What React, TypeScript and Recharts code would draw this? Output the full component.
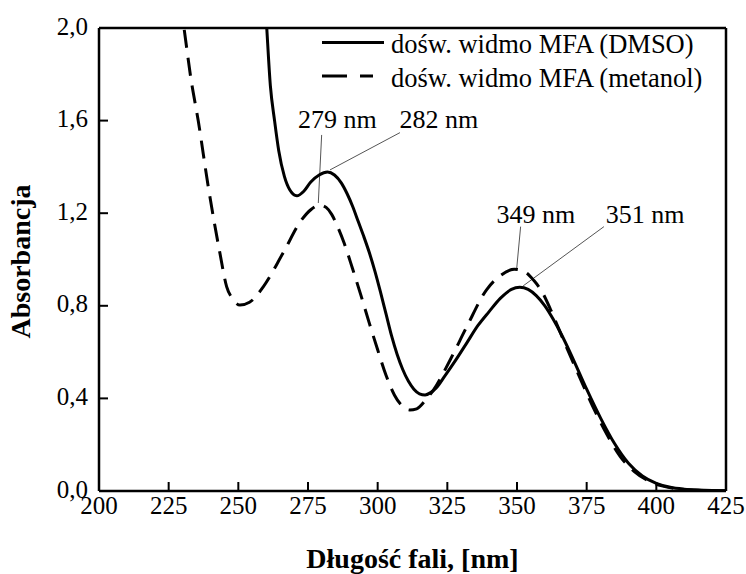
import React from 'react';
import { LineChart, Line, XAxis, YAxis, ReferenceLine, ReferenceDot } from 'recharts';

const SERIF = 'Liberation Serif, Times New Roman, serif';

// widmo MFA w DMSO (linia ciągła)
const dmsoNm = [257, 260, 261.5, 263, 264.5, 266.5, 268.5, 271, 273.5, 276, 279, 282, 284.5, 287, 289, 291, 293, 295, 297, 299, 301, 303, 305, 307, 309, 311, 313, 315, 317, 319, 321, 324, 328, 332, 336, 340, 344, 348, 351, 354, 357, 360, 363, 366, 369, 372, 375, 380, 385, 390, 395, 400, 405, 410, 415, 420, 425];
const dmsoAbs = [2.6, 2.04, 1.75, 1.6, 1.47, 1.36, 1.3, 1.275, 1.295, 1.335, 1.365, 1.378, 1.365, 1.33, 1.285, 1.23, 1.165, 1.1, 1.03, 0.95, 0.86, 0.765, 0.67, 0.59, 0.525, 0.475, 0.44, 0.42, 0.415, 0.425, 0.445, 0.495, 0.565, 0.64, 0.715, 0.775, 0.832, 0.871, 0.88, 0.871, 0.843, 0.8, 0.742, 0.675, 0.6, 0.52, 0.44, 0.315, 0.205, 0.12, 0.065, 0.033, 0.016, 0.008, 0.004, 0.002, 0.001];

// widmo MFA w metanolu (linia przerywana)
const metNm = [226, 230.5, 233, 235.6, 239.2, 243.4, 245.8, 248, 250.6, 254, 259, 266, 272.7, 276, 279.3, 281.5, 283.5, 285.5, 288, 291, 294, 297, 300, 303, 306, 309, 311.5, 314, 317, 320, 326, 332, 339, 344, 349, 353, 356, 359, 362, 365, 368, 372, 377, 382, 387, 392, 397, 402, 407, 412, 418, 425];
const metAbs = [2.35, 2.0, 1.78, 1.6, 1.315, 1.027, 0.883, 0.83, 0.803, 0.815, 0.883, 1.027, 1.171, 1.215, 1.235, 1.225, 1.195, 1.145, 1.07, 0.96, 0.845, 0.725, 0.61, 0.5, 0.415, 0.365, 0.35, 0.355, 0.39, 0.436, 0.566, 0.71, 0.868, 0.93, 0.958, 0.945, 0.91, 0.86, 0.785, 0.7, 0.615, 0.505, 0.37, 0.25, 0.15, 0.085, 0.045, 0.022, 0.01, 0.005, 0.002, 0.001];

const xTicks = [200, 225, 250, 275, 300, 325, 350, 375, 400, 425];
const yTicks = [0, 0.4, 0.8, 1.2, 1.6, 2.0];

const seriesNames = ['dośw. widmo MFA (DMSO)', 'dośw. widmo MFA (metanol)'];

// opisy maksimów: tekst, położenie tekstu i linia odnośnika
const annoText = ['279 nm', '282 nm', '349 nm', '351 nm'];
const annoPos = [[285.5, 1.568], [322, 1.568], [356.8, 1.159], [396, 1.159]];
const leaderFrom = [[279.9, 1.538], [308, 1.548], [351.3, 1.142], [381.2, 1.142]];
const leaderTo = [[278.7, 1.244], [282.9, 1.387], [349.9, 0.962], [352.2, 0.886]];

const dmsoData = dmsoNm.map((nm, i) => ({ nm, a: dmsoAbs[i] }));
const metData = metNm.map((nm, i) => ({ nm, a: metAbs[i] }));

const XTick = (props: any) => {
  const { x, y, payload } = props;
  return (
    <g>
      <line x1={x} y1={y} x2={x} y2={y - 9} stroke="#000" strokeWidth={2} />
      <text x={x} y={y + 23} textAnchor="middle" fontSize={25} fontFamily={SERIF} fill="#000">{payload.value}</text>
    </g>
  );
};

const YTick = (props: any) => {
  const { x, y, payload } = props;
  return (
    <g>
      <line x1={x} y1={y} x2={x + 9} y2={y} stroke="#000" strokeWidth={2} />
      <text x={x - 11} y={y + 6.5} textAnchor="end" fontSize={25} fontFamily={SERIF} fill="#000">
        {payload.value.toFixed(1).replace('.', ',')}
      </text>
    </g>
  );
};

const xTitle = (props: any) => {
  const vb = props.viewBox;
  return (
    <text x={vb.x + vb.width / 2} y={vb.y + 77} textAnchor="middle" fontSize={28} fontWeight="bold" fontFamily={SERIF} fill="#000">
      Długość fali, [nm]
    </text>
  );
};

const yTitle = (props: any) => {
  const vb = props.viewBox;
  const cx = 30;
  const cy = vb.y + vb.height / 2 + 2;
  return (
    <text x={cx} y={cy} transform={`rotate(-90, ${cx}, ${cy})`} textAnchor="middle" fontSize={28} fontWeight="bold" fontFamily={SERIF} fill="#000">
      Absorbancja
    </text>
  );
};

const annoLabel = (text: string) => (props: any) => {
  const vb = props.viewBox;
  return (
    <text x={vb.x + vb.width / 2} y={vb.y + vb.height / 2} textAnchor="middle" fontSize={26} fontFamily={SERIF} fill="#000">
      {text}
    </text>
  );
};

// legenda w prawym górnym rogu obszaru wykresu
const ChartLegend = () => (
  <svg width={400} height={72} style={{ position: 'absolute', left: 320, top: 26, display: 'block' }}>
    <line x1={2} y1={16.5} x2={64} y2={16.5} stroke="#000" strokeWidth={3} />
    <text x={71} y={27} fontSize={26.5} fontFamily={SERIF} fill="#000">{seriesNames[0]}</text>
    <line x1={2} y1={50} x2={53} y2={50} stroke="#000" strokeWidth={3} strokeDasharray="25 13" />
    <text x={71} y={61} fontSize={26.5} fontFamily={SERIF} fill="#000">{seriesNames[1]}</text>
  </svg>
);

export default function App() {
  return (
    <div style={{ position: 'relative', width: 746, height: 574, background: '#fff' }}>
      <style>{'body{margin:0;background:#fff}'}</style>
      <LineChart width={746} height={574} margin={{ top: 28, right: 20, left: 0, bottom: 0 }}>
        <XAxis
          type="number"
          dataKey="nm"
          domain={[200, 425]}
          ticks={xTicks}
          interval={0}
          height={83}
          tickSize={0}
          tickMargin={0}
          tickLine={false}
          tick={<XTick />}
          axisLine={{ stroke: '#000', strokeWidth: 2.5 }}
          allowDataOverflow
          label={xTitle}
        />
        <YAxis
          type="number"
          domain={[0, 2]}
          ticks={yTicks}
          interval={0}
          width={99}
          tickSize={0}
          tickMargin={0}
          tickLine={false}
          tick={<YTick />}
          axisLine={{ stroke: '#000', strokeWidth: 2.5 }}
          allowDataOverflow
          label={yTitle}
        />
        <ReferenceLine y={2} stroke="#000" strokeWidth={2.5} ifOverflow="visible" />
        <ReferenceLine x={425} stroke="#000" strokeWidth={2.5} ifOverflow="visible" />
        {annoText.map((t, i) => (
          <ReferenceLine
            key={'l' + i}
            segment={[{ x: leaderFrom[i][0], y: leaderFrom[i][1] }, { x: leaderTo[i][0], y: leaderTo[i][1] }]}
            stroke="#555"
            strokeWidth={1}
            ifOverflow="visible"
          />
        ))}
        {annoText.map((t, i) => (
          <ReferenceDot key={'t' + i} x={annoPos[i][0]} y={annoPos[i][1]} r={1} fill="none" stroke="none" ifOverflow="visible" label={annoLabel(t)} />
        ))}
        <Line data={dmsoData} dataKey="a" name={seriesNames[0]} type="monotone" dot={false} stroke="#000" strokeWidth={3} isAnimationActive={false} />
        <Line data={metData} dataKey="a" name={seriesNames[1]} type="monotone" dot={false} stroke="#000" strokeWidth={3} strokeDasharray="18 10" isAnimationActive={false} />
      </LineChart>
      <ChartLegend />
    </div>
  );
}
